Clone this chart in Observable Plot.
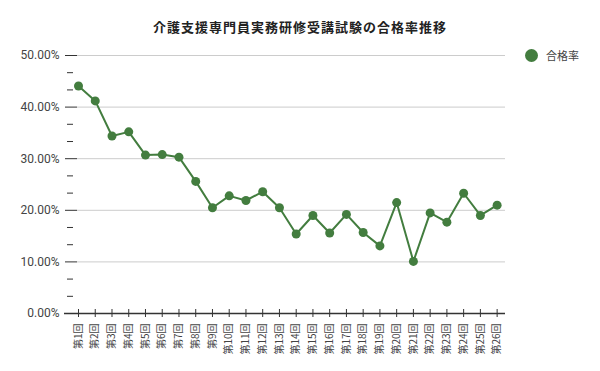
<!DOCTYPE html>
<html><head><meta charset="utf-8">
<script src="https://cdn.jsdelivr.net/npm/d3@7"></script>
<script src="https://cdn.jsdelivr.net/npm/@observablehq/plot@0.6"></script>
<style>
body{margin:0;background:#fff;font-family:Roboto,"Noto Sans CJK JP",sans-serif;}
#wrap{position:relative;width:600px;height:371px;}
#title{position:absolute;left:0;width:600px;top:17px;text-align:center;font-size:13px;font-weight:bold;color:#222;letter-spacing:1px;font-family:"Noto Sans CJK JP",sans-serif;}
#legend{position:absolute;left:525px;top:47px;font-size:11px;color:#444;display:flex;align-items:center;font-family:"Noto Sans CJK JP",sans-serif;}
#legend .dot{width:13px;height:13px;border-radius:50%;background:#437d3f;margin-right:8px;}
</style></head>
<body><div id="wrap"><div id="title">介護支援専門員実務研修受講試験の合格率推移</div><div id="legend"><span class="dot"></span>合格率</div></div>
<script>
const rounds = [1,2,3,4,5,6,7,8,9,10,11,12,13,14,15,16,17,18,19,20,21,22,23,24,25,26];
const passRate = [44.1,41.2,34.4,35.2,30.7,30.8,30.3,25.6,20.5,22.8,21.9,23.6,20.5,15.4,19.0,15.6,19.2,15.7,13.1,21.5,10.1,19.5,17.7,23.3,19.0,21.0];
const yMajor = [0,10,20,30,40,50];
const yMinor = [3.33,6.67,13.33,16.67,23.33,26.67,33.33,36.67,43.33,46.67];
const seriesName = "合格率";
const color = "#437d3f";
const data = rounds.map((r,i)=>({round:r, rate:passRate[i], series:seriesName}));

const chart = Plot.plot({
  width:600, height:371,
  marginTop:55, marginBottom:58, marginLeft:77, marginRight:95,
  style:{fontFamily:'Roboto,"Noto Sans CJK JP",sans-serif', background:"transparent"},
  x:{type:"linear", domain:[0.94,26.5], axis:null},
  y:{domain:[0,50], axis:null},
  marks:[
    Plot.ruleY(yMajor.filter(d=>d>0), {stroke:"#cccccc", strokeWidth:1}),
    Plot.axisY(yMajor, {label:null, tickSize:12, tickPadding:6, fontSize:12, color:"#444", stroke:"#333", tickFormat:d=>d.toFixed(2)+"%"}),
    Plot.axisY(yMinor, {label:null, tickSize:6, dx:-4, tickFormat:null, text:null, stroke:"#333"}),
    Plot.ruleY([0], {stroke:"#333", strokeWidth:1.5, insetLeft:-13}),
    Plot.axisX(rounds, {label:null, tickSize:8, dy:-4, text:null, stroke:"#333"}),
    Plot.axisX(rounds, {label:null, tickSize:0, tickPadding:10, tickRotate:-90, fontSize:10, fill:"#444", tickFormat:d=>`第${d}回`, fontFamily:'"Noto Sans CJK JP",sans-serif'}),
    Plot.line(data, {x:"round", y:"rate", stroke:color, strokeWidth:2}),
    Plot.dot(data, {x:"round", y:"rate", r:4.5, fill:color, stroke:null})
  ]
});
chart.style.position="absolute"; chart.style.left="0"; chart.style.top="0";
document.getElementById("wrap").prepend(chart);
</script></body></html>
